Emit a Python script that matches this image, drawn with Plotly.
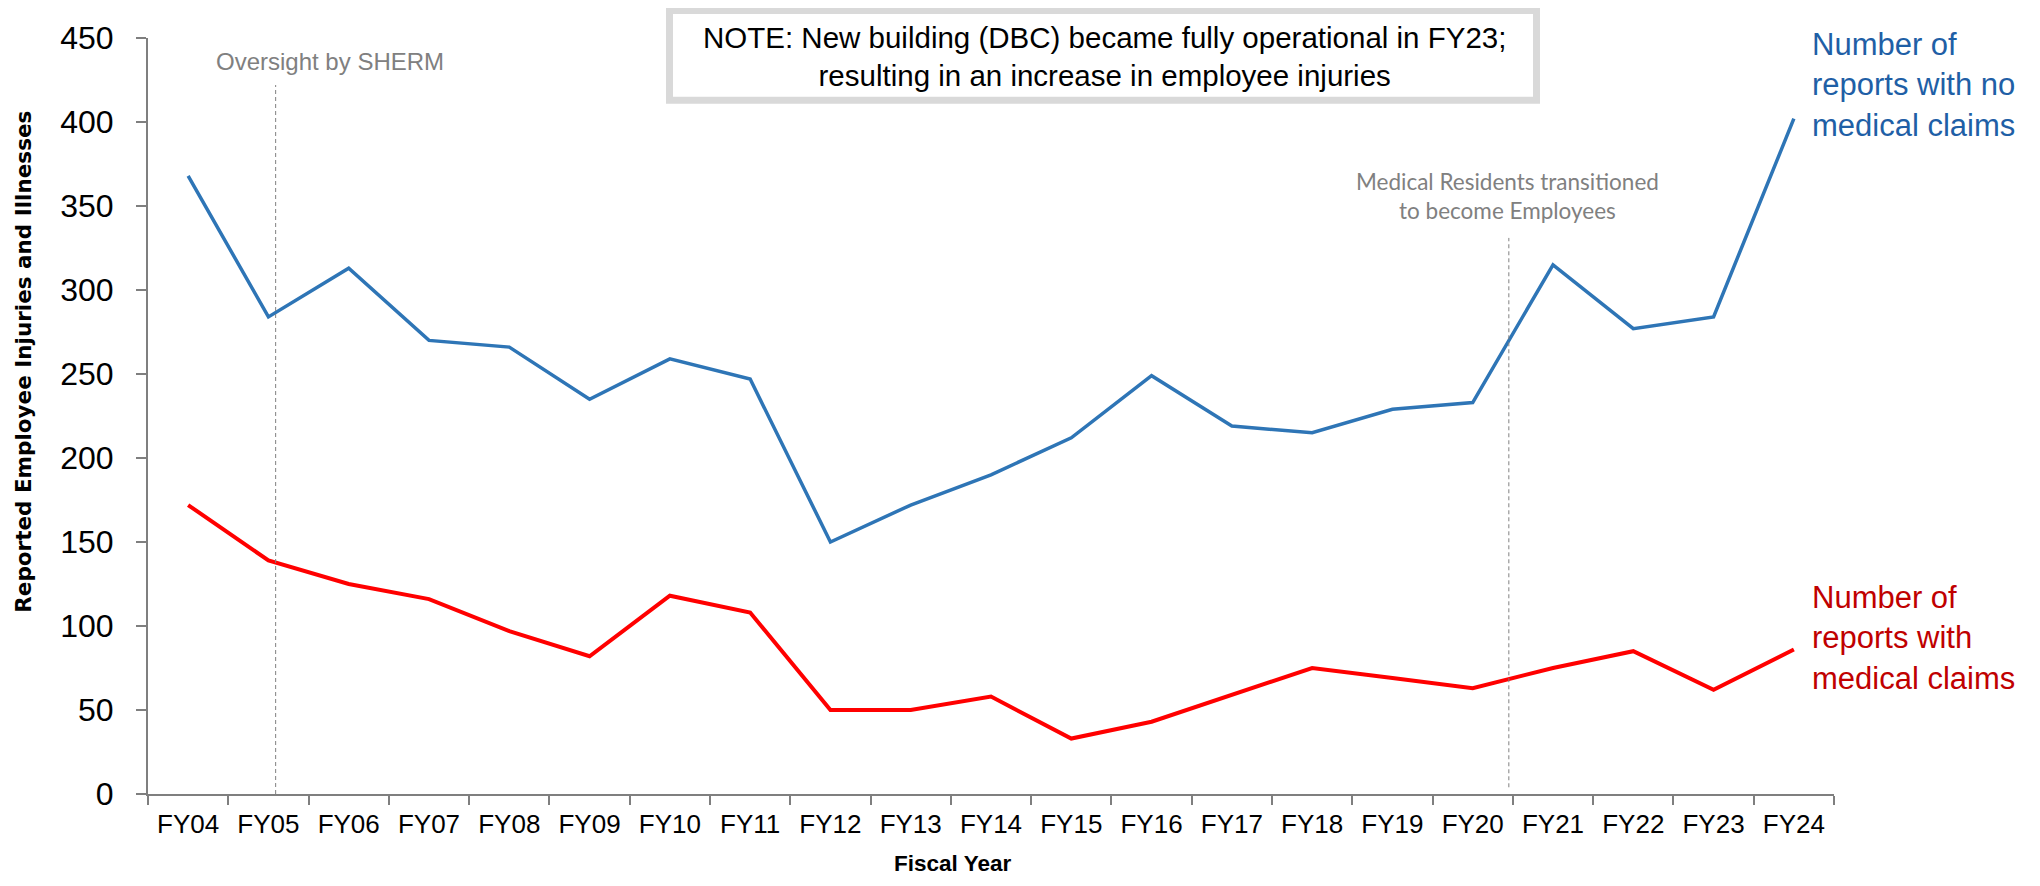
import plotly.graph_objects as go

years = ["FY04", "FY05", "FY06", "FY07", "FY08", "FY09", "FY10", "FY11", "FY12", "FY13", "FY14",
         "FY15", "FY16", "FY17", "FY18", "FY19", "FY20", "FY21", "FY22", "FY23", "FY24"]
no_medical = [368, 284, 313, 270, 266, 235, 259, 247, 150, 172, 190,
              212, 249, 219, 215, 229, 233, 315, 277, 284, 402]
medical = [172, 139, 125, 116, 97, 82, 118, 108, 50, 50, 58,
           33, 43, 59, 75, 69, 63, 75, 85, 62, 86]
y_ticks = [0, 50, 100, 150, 200, 250, 300, 350, 400, 450]

# window is 2040x886; page body has an 8px margin
OFF = 8
FW, FH = 2040 - 2 * OFF, 886 - 2 * OFF
L, R, T, B = 148, 1834, 35, 794   # plot area in window pixels


def px(x):
    return (x - L) / (R - L)


def py(y):
    return (B - y) / (B - T)


fig = go.Figure()
fig.add_trace(go.Scatter(x=years, y=no_medical, mode="lines",
                         line=dict(color="#2E75B6", width=3.5), showlegend=False))
fig.add_trace(go.Scatter(x=years, y=medical, mode="lines",
                         line=dict(color="#FF0000", width=4), showlegend=False))

# vertical dashed event lines
fig.add_shape(type="line", xref="x", yref="y", x0=1.09, x1=1.09, y0=0, y1=422,
              line=dict(color="#808080", width=1, dash="4px,3px"))
fig.add_shape(type="line", xref="x", yref="y", x0=16.45, x1=16.45, y0=4, y1=331,
              line=dict(color="#808080", width=1, dash="4px,3px"))

# note box
fig.add_shape(type="rect", xref="paper", yref="paper",
              x0=px(669.5), x1=px(1536.5), y0=py(97.5), y1=py(7.5),
              line=dict(color="#D9D9D9", width=7), fillcolor="white", layer="below")

SANS = "Liberation Sans, Arial"
NARROW = "Liberation Sans Narrow, Arial Narrow, Liberation Sans"

ann = []
ann.append(dict(text="NOTE: New building (DBC) became fully operational in FY23;<br>resulting in an increase in employee injuries",
                x=px(1104), y=py(53.5), xref="paper", yref="paper", showarrow=False,
                xanchor="center", yanchor="middle",
                font=dict(family=SANS, size=29.5, color="black")))
ann.append(dict(text="Oversight by SHERM", x=px(330), y=py(59), xref="paper", yref="paper",
                showarrow=False, xanchor="center", yanchor="middle",
                font=dict(family=SANS, size=24, color="#808080")))
ann.append(dict(text="Medical Residents transitioned<br>to become Employees", x=px(1507), y=py(193.5),
                xref="paper", yref="paper", showarrow=False, xanchor="center", yanchor="middle",
                font=dict(family="Lato", size=22.5, color="#808080")))
ann.append(dict(text="Number of<br>reports with no<br>medical claims", x=px(1810), y=py(82),
                xref="paper", yref="paper", showarrow=False, xanchor="left", yanchor="middle",
                align="left", font=dict(family=SANS, size=31, color="#1F5FA6")))
ann.append(dict(text="Number of<br>reports with<br>medical claims", x=px(1810), y=py(637.5),
                xref="paper", yref="paper", showarrow=False, xanchor="left", yanchor="middle",
                align="left", font=dict(family=SANS, size=31, color="#C00000")))
ann.append(dict(text="<b>Fiscal Year</b>", x=px(952), y=py(864), xref="paper", yref="paper",
                showarrow=False, xanchor="center", yanchor="middle", borderpad=0,
                font=dict(family=SANS, size=22.5, color="black")))
ann.append(dict(text="<b>Reported Employee Injuries and Illnesses</b>", x=px(24), y=py(360),
                xref="paper", yref="paper", showarrow=False, xanchor="center", yanchor="middle",
                textangle=-90, font=dict(family="DejaVu Sans", size=21.5, color="black")))

fig.update_layout(
    width=FW, height=FH,
    margin=dict(l=L - OFF, r=(2040 - OFF) - R, t=T - OFF, b=(886 - OFF) - B, pad=0),
    paper_bgcolor="white", plot_bgcolor="white",
    annotations=ann,
    xaxis=dict(type="category", range=[-0.5, 20.5], tickson="boundaries",
               showline=True, linecolor="#7F7F7F", linewidth=2,
               ticks="outside", ticklen=9, tickcolor="#7F7F7F", tickwidth=1.5,
               showgrid=False, zeroline=False,
               tickfont=dict(family=NARROW, size=26, color="black"),
               ticklabelstandoff=6),
    yaxis=dict(range=[0, 450], tickvals=y_ticks, showline=True, linecolor="#7F7F7F", linewidth=2,
               ticks="outside", ticklen=10, tickcolor="#7F7F7F", tickwidth=1.5,
               showgrid=False, zeroline=False,
               tickfont=dict(family=SANS, size=32, color="black"),
               ticklabelstandoff=16),
)

fig.write_html("out.html")
